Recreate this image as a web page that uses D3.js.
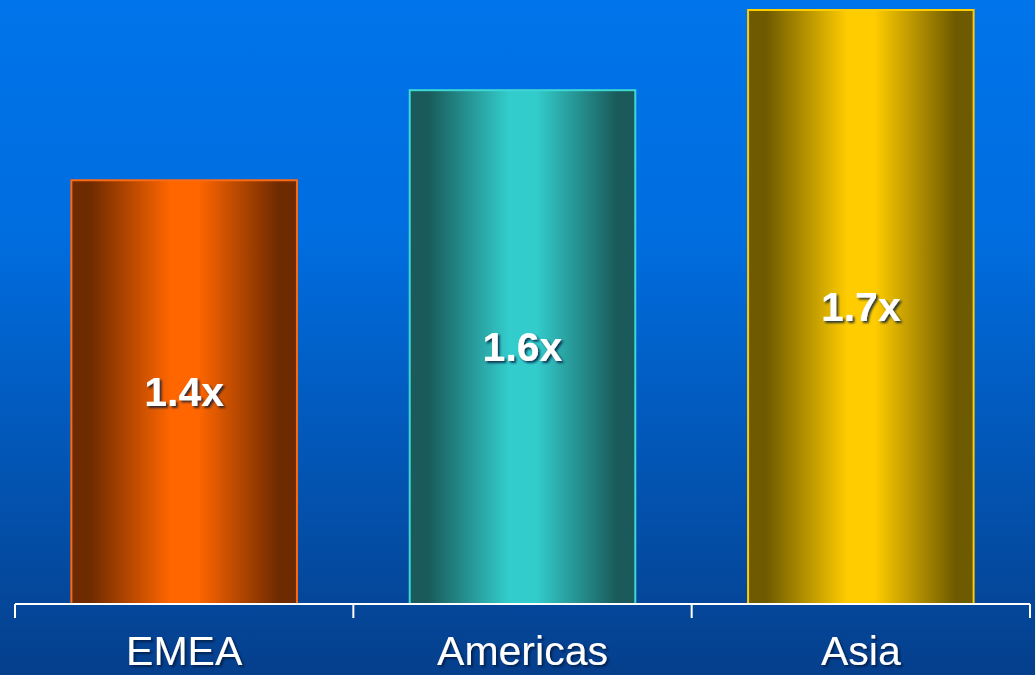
<!DOCTYPE html>
<html>
<head>
<meta charset="utf-8">
<script src="https://cdn.jsdelivr.net/npm/d3@7"></script>
<style>
  html, body { margin: 0; padding: 0; overflow: hidden; }
  body { width: 1035px; height: 675px; }
  svg { display: block; }
</style>
</head>
<body>
<svg id="chart" width="1035" height="675"></svg>
<script>
// ---- data ----
const categories = ["EMEA", "Americas", "Asia"];
const barValues = [4.28, 5.19, 6.0];          // relative bar heights
const valueLabels = ["1.4x", "1.6x", "1.7x"];
const edgeColors = ["#6e2a00", "#1a5a5a", "#6e5a00"];
const centerColors = ["#ff6600", "#33cccc", "#ffcc00"];
const strokeColors = ["#ff6a10", "#3fd6d6", "#ffcc00"];

const W = 1035, H = 675;
const svg = d3.select("#chart");
const defs = svg.append("defs");

// background gradient
const bg = defs.append("linearGradient").attr("id", "bg")
  .attr("x1", 0).attr("y1", 0).attr("x2", 0).attr("y2", 1);
bg.append("stop").attr("offset", "0%").attr("stop-color", "#0074ea");
bg.append("stop").attr("offset", "35%").attr("stop-color", "#006ddf");
bg.append("stop").attr("offset", "100%").attr("stop-color", "#053f8c");
svg.append("rect").attr("width", W).attr("height", H).attr("fill", "url(#bg)");

// shadow filter for text
const f = defs.append("filter").attr("id", "shadow")
  .attr("x", "-20%").attr("y", "-20%").attr("width", "140%").attr("height", "140%");
f.append("feDropShadow").attr("dx", 2).attr("dy", 2).attr("stdDeviation", 1.2)
  .attr("flood-color", "#001a40").attr("flood-opacity", 0.8);

// bar gradients
categories.forEach((c, i) => {
  const g = defs.append("linearGradient").attr("id", "bar" + i)
    .attr("x1", 0).attr("y1", 0).attr("x2", 1).attr("y2", 0);
  g.append("stop").attr("offset", "0%").attr("stop-color", edgeColors[i]);
  g.append("stop").attr("offset", "8%").attr("stop-color", edgeColors[i]);
  g.append("stop").attr("offset", "44%").attr("stop-color", centerColors[i]);
  g.append("stop").attr("offset", "56%").attr("stop-color", centerColors[i]);
  g.append("stop").attr("offset", "92%").attr("stop-color", edgeColors[i]);
  g.append("stop").attr("offset", "100%").attr("stop-color", edgeColors[i]);
});

const baseY = 604;
const x = d3.scaleBand().domain(categories).range([15, 1030])
  .paddingInner(1/3).paddingOuter(1/6);
const y = d3.scaleLinear().domain([0, 6]).range([baseY, 10]);

const data = categories.map((c, i) => ({ c, v: barValues[i], label: valueLabels[i], i }));

// bars
svg.selectAll("rect.bar").data(data).join("rect")
  .attr("class", "bar")
  .attr("x", d => x(d.c))
  .attr("y", d => y(d.v))
  .attr("width", x.bandwidth())
  .attr("height", d => baseY - y(d.v))
  .attr("fill", d => "url(#bar" + d.i + ")")
  .attr("stroke", d => strokeColors[d.i])
  .attr("stroke-width", 2);

// value labels
svg.selectAll("text.val").data(data).join("text")
  .attr("class", "val")
  .attr("x", d => x(d.c) + x.bandwidth() / 2)
  .attr("y", d => (y(d.v) + baseY) / 2)
  .attr("dy", "0.35em")
  .attr("text-anchor", "middle")
  .attr("font-family", "Liberation Sans, Arial, sans-serif")
  .attr("font-weight", "bold")
  .attr("font-size", 41)
  .attr("fill", "#ffffff")
  .attr("filter", "url(#shadow)")
  .text(d => d.label);

// axis: line with boundary ticks pointing down
const step = x.step();
const boundaries = d3.range(categories.length + 1).map(k => 15 + k * step);
const axis = svg.append("g").attr("stroke", "#ffffff").attr("stroke-width", 2).attr("fill", "none");
axis.append("line").attr("x1", 15).attr("x2", 1030).attr("y1", baseY).attr("y2", baseY);
axis.selectAll("line.tick").data(boundaries).join("line")
  .attr("class", "tick")
  .attr("x1", d => d).attr("x2", d => d)
  .attr("y1", baseY).attr("y2", baseY + 14);

// category labels
svg.selectAll("text.cat").data(categories).join("text")
  .attr("class", "cat")
  .attr("x", d => x(d) + x.bandwidth() / 2)
  .attr("y", 665)
  .attr("text-anchor", "middle")
  .attr("font-family", "Liberation Sans, Arial, sans-serif")
  .attr("font-size", 41)
  .attr("fill", "#ffffff")
  .attr("filter", "url(#shadow)")
  .text(d => d);
</script>
</body>
</html>
